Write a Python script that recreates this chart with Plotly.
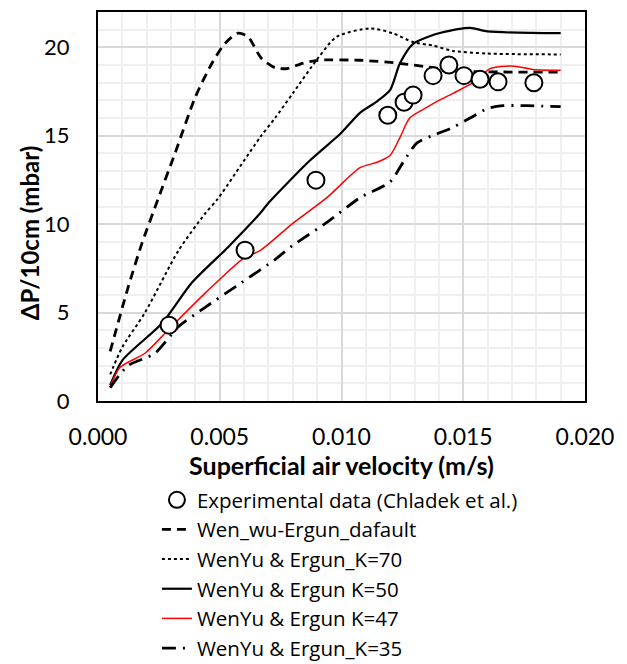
import plotly.graph_objects as go

# Experimental data (Chladek et al.)
exp_x = [0.00292, 0.00604, 0.00895, 0.0119, 0.01257, 0.01294, 0.01376, 0.01441, 0.01503, 0.01569, 0.01643, 0.0179]
exp_y = [4.29, 8.53, 12.49, 16.16, 16.9, 17.3, 18.4, 19.0, 18.4, 18.2, 18.05, 18.0]

# Wen_wu-Ergun_dafault
dflt_x = [0.0005, 0.00123, 0.0018, 0.00246, 0.00316, 0.004, 0.00468, 0.0052, 0.00575, 0.00616, 0.0067, 0.00727, 0.00776, 0.0084, 0.00904, 0.01076, 0.0124, 0.01376, 0.015, 0.019]
dflt_y = [2.8, 6.4, 8.9, 11.4, 14.0, 17.2, 19.1, 20.2, 20.8, 20.6, 19.4, 18.85, 18.8, 19.1, 19.27, 19.27, 19.1, 18.85, 18.65, 18.6]

# WenYu & Ergun_K=70
k70_x = [0.0005, 0.001, 0.00193, 0.0033, 0.0044, 0.0049, 0.00665, 0.00727, 0.008, 0.00904, 0.0098, 0.01117, 0.0121, 0.01294, 0.01376, 0.01458, 0.016, 0.019]
k70_y = [1.5, 3.05, 5.0, 8.5, 10.6, 11.4, 14.9, 16.0, 17.4, 19.4, 20.6, 21.07, 20.8, 20.3, 20.1, 19.8, 19.65, 19.6]

# WenYu & Ergun K=50
k50_x = [0.0005, 0.001, 0.00263, 0.00386, 0.00534, 0.00665, 0.007, 0.0087, 0.00994, 0.01076, 0.01146, 0.012, 0.0124, 0.01294, 0.01376, 0.014, 0.01528, 0.016, 0.019]
k50_y = [0.9, 2.3, 4.4, 6.7, 8.7, 10.6, 11.2, 13.6, 15.1, 16.3, 16.95, 17.6, 19.1, 20.2, 20.7, 20.8, 21.1, 20.9, 20.8]

# WenYu & Ergun K=47
k47_x = [0.0005, 0.0009, 0.00193, 0.00287, 0.0044, 0.006, 0.00665, 0.008, 0.0094, 0.01076, 0.01146, 0.012, 0.0124, 0.0128, 0.0135, 0.014, 0.01458, 0.0154, 0.0161, 0.017, 0.01786, 0.019]
k47_y = [0.8, 1.9, 2.7, 4.0, 6.1, 8.1, 8.5, 10.05, 11.5, 13.2, 13.5, 13.9, 14.9, 16.0, 16.6, 17.0, 17.4, 18.0, 18.8, 18.95, 18.75, 18.7]

# WenYu & Ergun_K=35
k35_x = [0.0005, 0.00123, 0.00234, 0.0033, 0.0044, 0.0059, 0.00727, 0.008, 0.0094, 0.01076, 0.012, 0.01253, 0.0131, 0.0139, 0.01446, 0.01528, 0.016, 0.01663, 0.0176, 0.019]
k35_y = [0.75, 2.0, 2.7, 4.2, 5.3, 6.7, 8.0, 8.8, 10.1, 11.5, 12.4, 13.5, 14.6, 15.1, 15.4, 16.0, 16.55, 16.7, 16.7, 16.65]

FONT = "Lato"
LEGEND_FONT = "Open Sans"

fig = go.Figure()

def line(x, y, name, color, width, dash, grp):
    fig.add_trace(go.Scatter(
        x=x, y=y, name=name, mode="lines", legendgroup=grp,
        line=dict(color=color, width=width, dash=dash, shape="spline", smoothing=0.7),
    ))

line(dflt_x, dflt_y, "Wen_wu-Ergun_dafault", "black", 2.8, "9px,6px", "b")
line(k70_x, k70_y, "WenYu & Ergun_K=70", "black", 2, "dot", "c")
line(k50_x, k50_y, "WenYu & Ergun K=50", "black", 2.2, "solid", "d")
line(k47_x, k47_y, "WenYu & Ergun K=47", "red", 1.5, "solid", "e")
line(k35_x, k35_y, "WenYu & Ergun_K=35", "black", 2.8, "14px,7px,2px,7px", "f")

fig.add_trace(go.Scatter(
    x=exp_x, y=exp_y, name="Experimental data (Chladek et al.)", mode="markers",
    legendgroup="a", legendrank=1,
    marker=dict(symbol="circle", size=17, color="white", line=dict(color="black", width=2)),
))

fig.update_layout(
    width=627, height=664,
    margin=dict(l=98, r=42, t=12, b=263, autoexpand=False),
    paper_bgcolor="white", plot_bgcolor="white",
    font=dict(family=FONT, size=22, color="black"),
    showlegend=True,
    legend=dict(
        x=0.121, xanchor="left", y=-0.203, yanchor="top",
        font=dict(family=LEGEND_FONT, size=20.5, color="black"),
        tracegroupgap=0, traceorder="grouped",
        bgcolor="rgba(0,0,0,0)",
    ),
    xaxis=dict(
        range=[0, 0.02], dtick=0.005, tickformat=".3f",
        showgrid=True, gridcolor="#d9d9d9", gridwidth=1.5,
        minor=dict(dtick=0.001, showgrid=True, gridcolor="#efefef", gridwidth=1.5),
        showline=True, linecolor="black", linewidth=2, mirror=True,
        zeroline=False, ticks="", ticklabelstandoff=14, automargin=False,
        tickfont=dict(family=FONT, size=23),
        title=dict(text="<b>Superficial air velocity (m/s)</b>", font=dict(family=FONT, size=25), standoff=6),
    ),
    yaxis=dict(
        range=[0, 22], tickvals=[0, 5, 10, 15, 20],
        showgrid=True, gridcolor="#d9d9d9", gridwidth=1.5,
        minor=dict(dtick=1, showgrid=True, gridcolor="#efefef", gridwidth=1.5),
        showline=True, linecolor="black", linewidth=2, mirror=True,
        zeroline=False, ticks="", ticklabelstandoff=22, automargin=False,
        tickfont=dict(family=FONT, size=22),
    ),
    annotations=[dict(
        text="<b>ΔP/10cm (mbar)</b>", textangle=-90, showarrow=False,
        xref="paper", yref="paper", x=-0.1417, y=0.434,
        xanchor="center", yanchor="middle",
        font=dict(family=FONT, size=24, color="black"),
    )],
)

fig.write_html(
    "out.html",
    config={"displayModeBar": False},
    post_script="document.body.style.margin='0';document.body.style.overflow='hidden';",
)
